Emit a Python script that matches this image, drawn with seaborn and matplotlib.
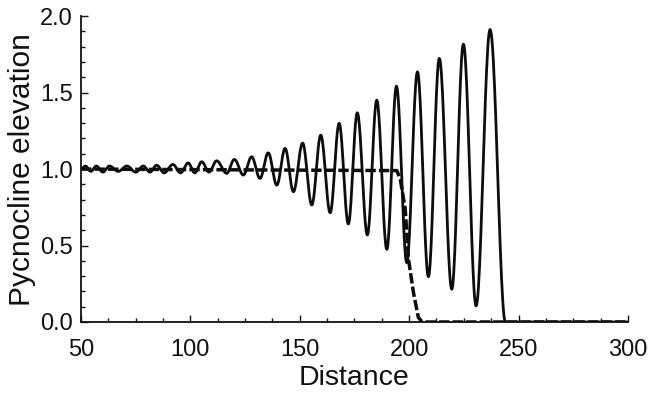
import numpy as np
import pandas as pd
import matplotlib
matplotlib.use("Agg")
import matplotlib.pyplot as plt
import seaborn as sns
from matplotlib.ticker import MultipleLocator

# Solid curve: successive crests/troughs (distance, elevation)
solid_x = [50, 52, 54.5, 57, 60, 63, 67, 71, 75, 78.5, 81.5, 84.6, 88, 92, 95.5, 99, 102,
           105.2, 108.5, 112.0, 116.6, 120.1, 124.2, 128.0, 131.8, 135.6, 139.5, 143.3, 147.1,
           151.3, 155.5, 159.6, 163.9, 168.0, 172.2, 176.3, 180.9, 185.2, 189.8, 194.2, 198.9,
           203.8, 208.8, 213.8, 219.5, 224.8, 230.6, 237.0, 244.0, 300]
solid_y = [1.0, 1.02, 0.985, 1.02, 0.98, 1.02, 0.985, 1.02, 0.98, 1.02, 0.98, 1.025, 0.975, 1.03, 0.975, 1.04, 0.975,
           1.048, 0.98, 1.054, 0.972, 1.063, 0.961, 1.080, 0.939, 1.106, 0.895, 1.135, 0.852,
           1.170, 0.765, 1.222, 0.714, 1.299, 0.641, 1.368, 0.569, 1.451, 0.475, 1.542, 0.388,
           1.636, 0.296, 1.724, 0.214, 1.817, 0.105, 1.913, 0.0, 0.0]

# Dashed curve (step of the pycnocline)
dashed_x = [50, 194.4, 196.0, 198.2, 199.7, 202.0, 204.2, 206.0, 300]
dashed_y = [1.0, 0.99, 0.93, 0.74, 0.41, 0.19, 0.03, 0.0, 0.0]

x_ticks = [50, 100, 150, 200, 250, 300]
y_ticks = [0.0, 0.5, 1.0, 1.5, 2.0]


def smooth_between(xs, ys, n=24):
    """Join successive extrema with half-cosine segments (drawing style only)."""
    out_x, out_y = [], []
    for i in range(len(xs) - 1):
        t = np.linspace(0, 1, n, endpoint=False)
        w = (1 - np.cos(np.pi * t)) / 2
        out_x.extend(xs[i] + (xs[i + 1] - xs[i]) * t)
        out_y.extend(ys[i] + (ys[i + 1] - ys[i]) * w)
    out_x.append(xs[-1]); out_y.append(ys[-1])
    return np.array(out_x), np.array(out_y)


sx, sy = smooth_between(solid_x, solid_y)
solid_df = pd.DataFrame({"Distance": sx, "Elevation": sy})
dashed_df = pd.DataFrame({"Distance": dashed_x, "Elevation": dashed_y})

sns.set_theme(style="ticks")
plt.rcParams['font.family'] = ['Liberation Sans', 'DejaVu Sans']

fig = plt.figure(figsize=(6.48, 4.04), dpi=100)
ax = fig.add_axes([0.125, 0.203, 0.844, 0.757])

sns.lineplot(data=solid_df, x="Distance", y="Elevation", ax=ax, sort=False,
             estimator=None, color="#0d0d0d", linewidth=2.0)
sns.lineplot(data=dashed_df, x="Distance", y="Elevation", ax=ax, sort=False,
             estimator=None, color="#0d0d0d", linewidth=2.5, linestyle=(0, (3, 0.9)))

ax.set_xlim(50, 300)
ax.set_ylim(0, 2.0)
ax.set_xticks(x_ticks)
ax.set_yticks(y_ticks)
ax.set_xticklabels([str(v) for v in x_ticks])
ax.set_yticklabels([f"{v:.1f}" for v in y_ticks])
ax.xaxis.set_minor_locator(MultipleLocator(12.5))
ax.yaxis.set_minor_locator(MultipleLocator(0.1))
ax.tick_params(which="both", direction="in", color="#111111", width=1.0)
ax.tick_params(which="major", length=5, labelsize=17, labelcolor="#111111")
ax.tick_params(which="minor", length=3)
ax.tick_params(axis="x", which="major", pad=12)
ax.tick_params(axis="y", which="major", pad=6)

for side in ["top", "right"]:
    ax.spines[side].set_visible(False)
for side in ["left", "bottom"]:
    ax.spines[side].set_linewidth(1.3)
    ax.spines[side].set_color("#111111")

ax.set_xlabel("Distance", fontsize=20.5, color="#111111", labelpad=3)
ax.set_ylabel("Pycnocline elevation", fontsize=21.5, color="#111111", labelpad=3)

fig.savefig("out.png", dpi=100)
